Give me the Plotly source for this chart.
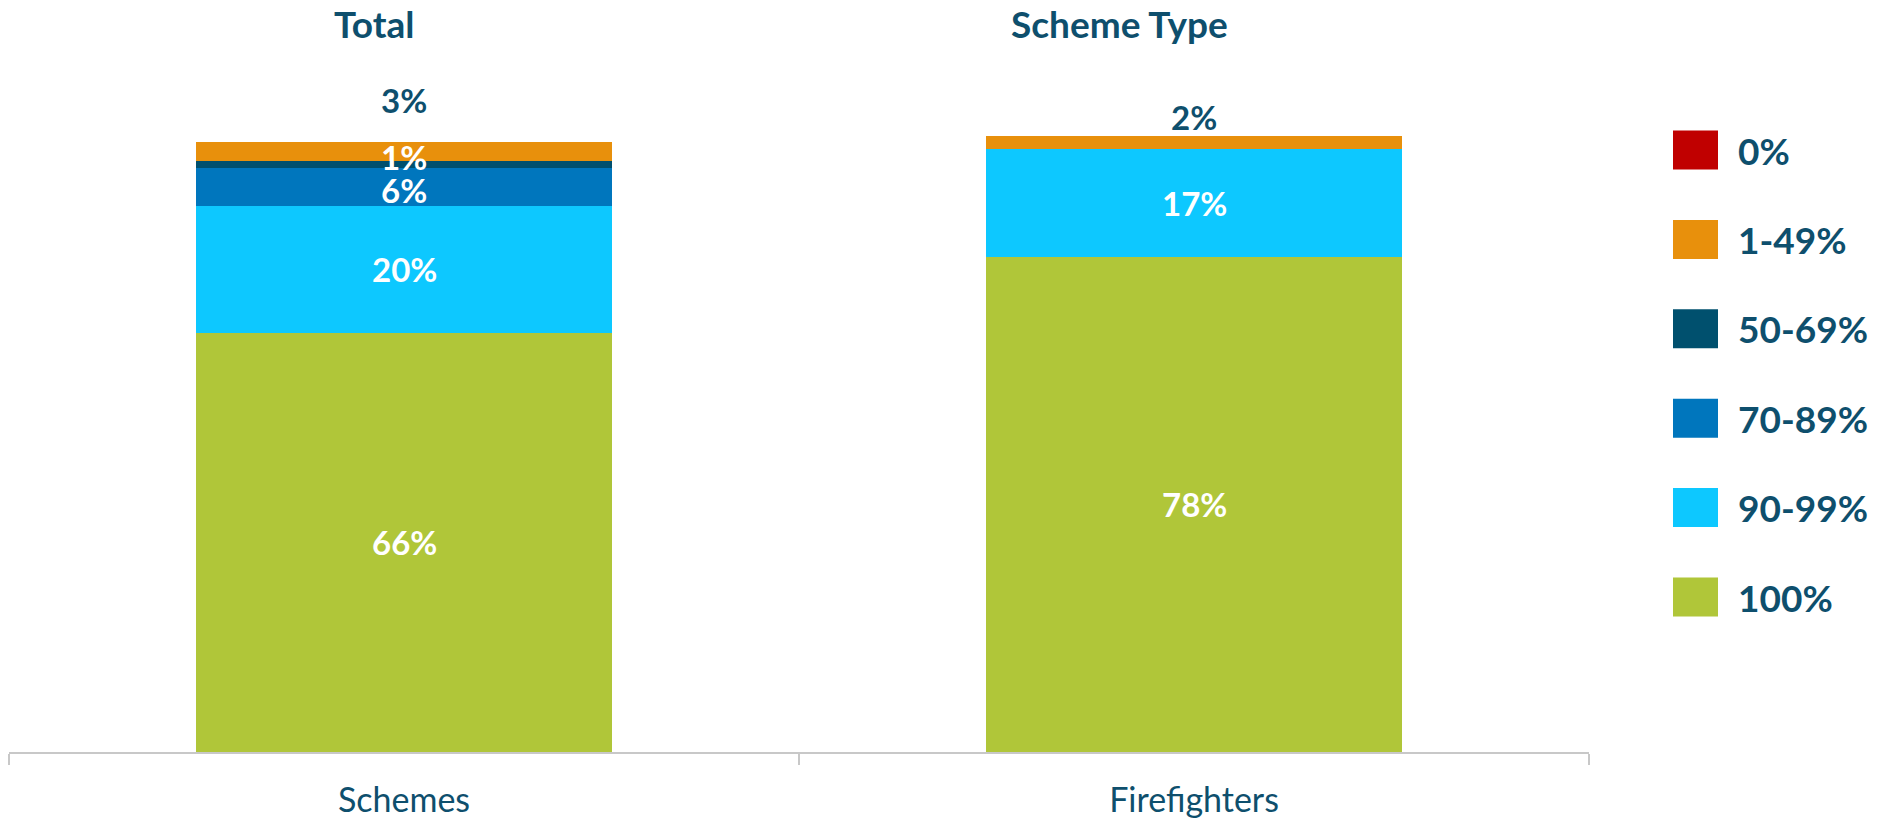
import plotly.graph_objects as go

# Share of scheme members by band, stacked per category
categories = ["Schemes", "Firefighters"]
bands = ["0%", "1-49%", "50-69%", "70-89%", "90-99%", "100%"]
values = {
    "0%": [0, 0],
    "1-49%": [3, 2],
    "50-69%": [1, 0],
    "70-89%": [6, 0],
    "90-99%": [20, 17],
    "100%": [66, 78],
}
colors = {
    "0%": "#C00000",
    "1-49%": "#E8900C",
    "50-69%": "#00506E",
    "70-89%": "#0076BD",
    "90-99%": "#0DC8FF",
    "100%": "#B0C639",
}
panel_titles = ["Total", "Scheme Type"]

TEXT = "#0E4F6D"
FONT = "Lato"

# plot area in pixels
W_PX, H_PX = 1880, 818
L, R, T, B = 9, 291, 117, 66
PW = W_PX - L - R
PH = H_PX - T - B


def paper_x(px):
    return (px - L) / PW


def paper_y(py):
    return (H_PX - B - py) / PH


fig = go.Figure()

# stack from the bottom band (100%) upwards
stack_order = list(reversed(bands))
for band in stack_order:
    fig.add_trace(go.Bar(
        x=categories,
        y=values[band],
        name=band,
        marker=dict(color=colors[band], line=dict(width=0)),
        showlegend=False,
        hoverinfo="x+y+name",
    ))

annotations = []

# segment value labels
top_shift = [42, 19]
for ci, cat in enumerate(categories):
    base = 0
    for band in stack_order:
        v = values[band][ci]
        if v <= 0:
            continue
        mid = base + v / 2
        if band == "1-49%":
            annotations.append(dict(
                x=cat, y=base + v, xref="x", yref="y",
                text=f"<b>{v}%</b>", showarrow=False,
                yanchor="middle", yshift=top_shift[ci],
                font=dict(family=FONT, size=33, color=TEXT),
            ))
        else:
            shift = {"50-69%": 8, "70-89%": -3}.get(band, 0)
            annotations.append(dict(
                x=cat, y=mid, xref="x", yref="y",
                text=f"<b>{v}%</b>", showarrow=False,
                yanchor="middle", yshift=shift,
                font=dict(family=FONT, size=33, color="white"),
            ))
        base += v

# panel headings
for title, px in zip(panel_titles, [374, 1119]):
    annotations.append(dict(
        x=paper_x(px), y=paper_y(24), xref="paper", yref="paper",
        text=f"<b>{title}</b>", showarrow=False,
        xanchor="center", yanchor="middle",
        font=dict(family=FONT, size=37, color=TEXT),
    ))

# legend: square swatches with bold labels, top band first
shapes = []
row0, step = 150, 89.4
for i, band in enumerate(bands):
    cy = row0 + i * step
    shapes.append(dict(
        type="rect", xref="paper", yref="paper",
        x0=paper_x(1673), x1=paper_x(1718),
        y0=paper_y(cy + 19.5), y1=paper_y(cy - 19.5),
        fillcolor=colors[band], line=dict(width=0),
    ))
    annotations.append(dict(
        x=paper_x(1736), y=paper_y(cy), xref="paper", yref="paper",
        text=f"<b>{band}</b>", showarrow=False,
        xanchor="left", yanchor="middle",
        font=dict(family=FONT, size=37, color=TEXT),
    ))

fig.update_layout(
    barmode="stack",
    bargap=0.473,
    width=W_PX,
    height=H_PX,
    margin=dict(l=L, r=R, t=T, b=B, pad=0),
    paper_bgcolor="white",
    plot_bgcolor="white",
    annotations=annotations,
    shapes=shapes,
    font=dict(family=FONT, color=TEXT),
    xaxis=dict(
        type="category",
        range=[-0.5, 1.5],
        automargin=False,
        showline=True,
        linecolor="#C8C8C8",
        linewidth=2,
        ticks="outside",
        tickson="boundaries",
        ticklen=11,
        tickwidth=2,
        tickcolor="#C8C8C8",
        showgrid=False,
        tickfont=dict(family=FONT, size=34, color=TEXT),
        ticklabelstandoff=17,
        fixedrange=True,
    ),
    yaxis=dict(
        range=[0, 100],
        visible=False,
        automargin=False,
        fixedrange=True,
    ),
)

fig.write_html("out.html", config={"displayModeBar": False})
